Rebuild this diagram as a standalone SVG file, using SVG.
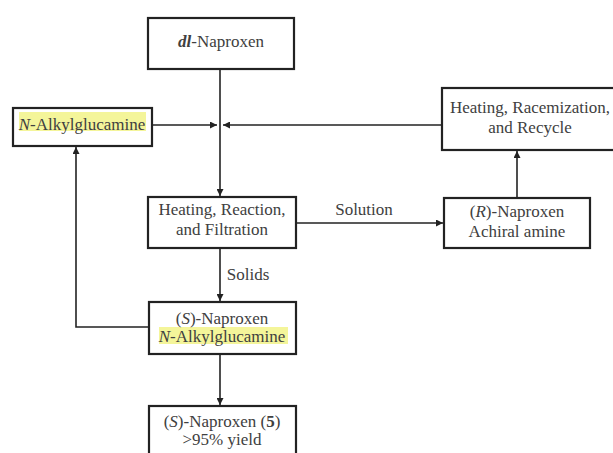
<svg xmlns="http://www.w3.org/2000/svg" width="613" height="453" viewBox="0 0 613 453">
<style>
.box{fill:#fff;stroke:#222;stroke-width:2.2}
.t{font-family:"Liberation Serif","Times New Roman",serif;font-size:17px;fill:#404040;text-anchor:middle}
.hl{fill:#f4f59a}
.c{fill:none;stroke:#222;stroke-width:1.6}
</style>
<defs>
<marker id="ah" viewBox="0 0 10 10" refX="10" refY="5" markerWidth="9" markerHeight="7" markerUnits="userSpaceOnUse" orient="auto">
<path d="M0,0 L10,5 L0,10 z" fill="#222"/>
</marker>
</defs>
<rect width="613" height="453" fill="#fff"/>
<g id="connectors">
<path class="c" d="M220,69 V196" marker-end="url(#ah)"/>
<path class="c" d="M152,125 H217" marker-end="url(#ah)"/>
<path class="c" d="M442,125 H223" marker-end="url(#ah)"/>
<path class="c" d="M296,223 H443" marker-end="url(#ah)"/>
<path class="c" d="M517,198 V151" marker-end="url(#ah)"/>
<path class="c" d="M220,248 V301" marker-end="url(#ah)"/>
<path class="c" d="M149,327 H76 V147" marker-end="url(#ah)"/>
<path class="c" d="M220,354 V405" marker-end="url(#ah)"/>
<text class="t" x="248" y="280">Solids</text>
<text class="t" x="364" y="215">Solution</text>
</g>
<g id="dl-naproxen">
<rect class="box" x="148" y="18" width="146" height="51"/>
<text class="t" x="221" y="47"><tspan font-weight="bold" font-style="italic">dl</tspan>-Naproxen</text>
</g>
<g id="n-alkylglucamine">
<rect class="box" x="13" y="108" width="139" height="38"/>
<rect class="hl" x="19" y="112" width="127" height="19"/>
<text class="t" x="82" y="130"><tspan font-style="italic">N</tspan>-Alkylglucamine</text>
</g>
<g id="heating-reaction">
<rect class="box" x="148" y="197" width="148" height="51"/>
<text class="t" x="222" y="215">Heating, Reaction,</text>
<text class="t" x="222" y="235">and Filtration</text>
</g>
<g id="heating-racemization">
<rect class="box" x="442" y="88" width="180" height="62"/>
<text class="t" x="530" y="113">Heating, Racemization,</text>
<text class="t" x="530" y="133">and Recycle</text>
</g>
<g id="r-naproxen">
<rect class="box" x="444" y="198" width="146" height="50"/>
<text class="t" x="517" y="217">(<tspan font-style="italic">R</tspan>)-Naproxen</text>
<text class="t" x="517" y="237">Achiral amine</text>
</g>
<g id="s-naproxen-salt">
<rect class="box" x="149" y="302" width="147" height="52"/>
<rect class="hl" x="159" y="327" width="129" height="17"/>
<text class="t" x="222" y="324">(<tspan font-style="italic">S</tspan>)-Naproxen</text>
<text class="t" x="222" y="342"><tspan font-style="italic">N</tspan>-Alkylglucamine</text>
</g>
<g id="s-naproxen-product">
<rect class="box" x="149" y="406" width="147" height="60"/>
<text class="t" x="222" y="427">(<tspan font-style="italic">S</tspan>)-Naproxen (<tspan font-weight="bold">5</tspan>)</text>
<text class="t" x="222" y="445">&gt;95% yield</text>
</g>
</svg>
